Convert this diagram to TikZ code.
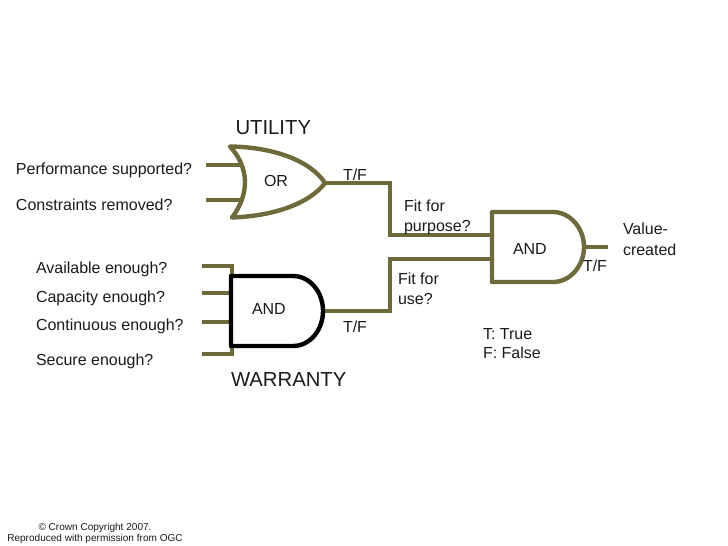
\documentclass[tikz,border=0pt]{standalone}
\usepackage{fontspec}
\setmainfont{Liberation Sans}
\definecolor{olive}{HTML}{6E6A3A}
\definecolor{txt}{HTML}{1A1A1A}
\tikzset{
  wire/.style={draw=olive,line width=4pt,line join=miter},
  gate/.style={draw=olive,line width=4.4pt,line join=round,fill=white},
  blackgate/.style={draw=black,line width=4.4pt,line join=round,fill=white},
  lab/.style={anchor=base west,inner sep=0pt,outer sep=0pt,text=txt,font=\fontsize{16}{16}\selectfont},
  head/.style={anchor=base west,inner sep=0pt,outer sep=0pt,text=txt,font=\fontsize{20.3}{20.3}\selectfont},
  small/.style={anchor=base,inner sep=0pt,outer sep=0pt,text=txt,font=\fontsize{10.05}{10.05}\selectfont},
}
\begin{document}
\begin{tikzpicture}[x=1pt,y=-1pt]
\useasboundingbox (0,0) rectangle (728,546);
% named points
\coordinate (orA) at (206,165);
\coordinate (orB) at (206,200);
\coordinate (orAe) at (242,165);
\coordinate (orBe) at (242,200);
\coordinate (orOut) at (325,183);
\coordinate (a1) at (202,266);
\coordinate (a2) at (202,293);
\coordinate (a3) at (202,322);
\coordinate (a4) at (202,354);
\coordinate (a1e) at (232,266);
\coordinate (a2e) at (232,293);
\coordinate (a3e) at (232,322);
\coordinate (a4e) at (232,354);
\coordinate (andOut) at (323,311);
\coordinate (bigA) at (492,235);
\coordinate (bigB) at (492,259);
\coordinate (bigOut) at (584,247);
\coordinate (valEnd) at (608,247);
% wires
\draw[wire] (orA) -- (orAe);
\draw[wire] (orB) -- (orBe);
\draw[wire] (a1) -- (a1e) -- (a2e);
\draw[wire] (a2) -- (a2e);
\draw[wire] (a3) -- (a3e);
\draw[wire] (a4) -- (a4e) -- (a3e);
\draw[wire] (orOut) -- (390,183) -- (390,235) -- (bigA);
\draw[wire] (andOut) -- (390,311) -- (390,259) -- (bigB);
\draw[wire] (bigOut) -- (valEnd);
% gates
\draw[gate] (230,146.5) .. controls (272,147) and (310,160) .. (325,183)
  .. controls (310,203) and (275,216) .. (232,217.5)
  .. controls (240,207) and (245,195) .. (245,182)
  .. controls (245,169) and (239,156) .. (230,146.5) -- cycle;
\draw[blackgate] (231,276) -- (293,276) .. controls (310,276) and (323,292) .. (323,311)
  .. controls (323,330) and (310,346) .. (293,346) -- (231,346) -- cycle;
\draw[gate] (492,212) -- (553,212) .. controls (570,212) and (584,228) .. (584,247)
  .. controls (584,266) and (570,282) .. (553,282) -- (492,282) -- cycle;
% labels
\node[head] (utility) at (235.5,134) {UTILITY};
\node[head] (warranty) at (231,386) {WARRANTY};
\node[lab] (q1) at (16,174) {Performance supported?};
\node[lab] (q2) at (16,210) {Constraints removed?};
\node[lab] (q3) at (36,273) {Available enough?};
\node[lab] (q4) at (36,302) {Capacity enough?};
\node[lab] (q5) at (36,330) {Continuous enough?};
\node[lab] (q6) at (36,365) {Secure enough?};
\node[lab] (orT) at (264,186) {OR};
\node[lab] (andT) at (252,314) {AND};
\node[lab] (bigT) at (513,254) {AND};
\node[lab] (tf1) at (343,180) {T/F};
\node[lab] (tf2) at (343,332) {T/F};
\node[lab] (tf3) at (583,271) {T/F};
\node[lab] (fp1) at (404,211) {Fit for};
\node[lab] (fp2) at (404,231) {purpose?};
\node[lab] (fu1) at (398,284) {Fit for};
\node[lab] (fu2) at (398,304) {use?};
\node[lab] (v1) at (623,234) {Value-};
\node[lab] (v2) at (623,255) {created};
\node[lab] (t1) at (483,339) {T: True};
\node[lab] (t2) at (483,358) {F: False};
\node[small] (c1) at (95,530) {© Crown Copyright 2007.};
\node[small] (c2) at (95,541) {Reproduced with permission from OGC};
\end{tikzpicture}
\end{document}
